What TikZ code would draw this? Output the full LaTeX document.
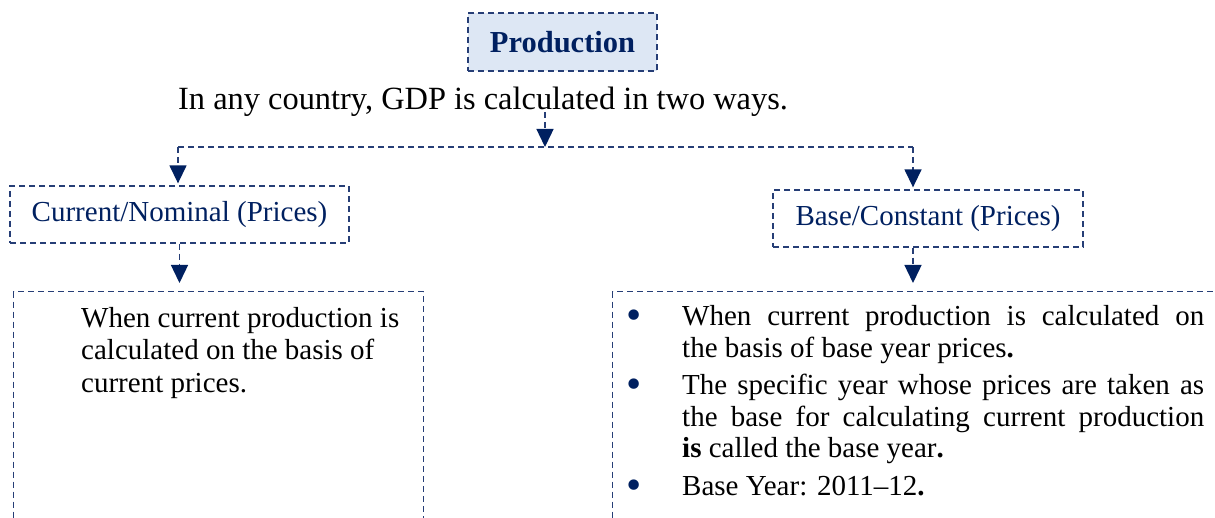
\documentclass[tikz,border=0pt]{standalone}
\usepackage{fontspec}
\setmainfont{Liberation Serif}
\usepackage{enumitem}
\usepackage{tikz}
\usetikzlibrary{arrows.meta, positioning, calc}
\definecolor{mynavy}{RGB}{0,32,96}
\definecolor{mydash}{RGB}{38,62,118}
\definecolor{myfill}{RGB}{221,231,244}
\tikzset{
  dashbox/.style={rectangle, draw=mydash, dash pattern=on 6pt off 4pt,
    line width=1.3pt, inner sep=0pt},
  headbox/.style={dashbox, fill=myfill, minimum width=189pt, minimum height=58pt,
    font=\fontsize{30.5}{36}\selectfont\bfseries, text=mynavy},
  typebox/.style={dashbox, minimum height=57pt,
    font=\fontsize{29}{34}\selectfont, text=mynavy},
  descbox/.style={dashbox, anchor=north west},
  desctext/.style={anchor=north west, inner sep=0pt},
  link/.style={draw=mydash, dash pattern=on 6pt off 4pt, line width=1.4pt},
  arrow/.style={link, -{Triangle[length=18pt, width=17pt, color=mynavy]}}
}

\begin{document}
\begin{tikzpicture}[x=1pt, y=-1pt]
  \useasboundingbox (0,0) rectangle (1215,518);
  \clip (0,0) rectangle (1215,518);

  \node[headbox] (prod) at (562.5,42) {Production};
  \node[anchor=base west, inner sep=0pt, font=\fontsize{32.4}{38}\selectfont]
    (intro) at (178,110) {In any country, GDP is calculated in two ways.};

  \node[typebox, minimum width=339pt] (cur) at (179.5,214.5) {Current/Nominal (Prices)};
  \node[typebox, minimum width=310pt] (base) at (928,218.5) {Base/Constant (Prices)};

  \node[descbox, minimum width=410pt, minimum height=260pt] (curbox) at (13,291) {};
  \node[descbox, minimum width=620pt, minimum height=260pt] (basebox) at (612,291) {};

  \node[desctext, align=left, font=\fontsize{29}{32.5}\selectfont] (curtxt) at (81,307)
    {When current production is\\calculated on the basis of\\current prices.};
  \node[desctext, text width=584pt, align=justify, font=\fontsize{29}{31.5}\selectfont]
    (basetxt) at (620,294) {%
    \begin{itemize}[label={\textcolor{mynavy}{\raisebox{-4pt}{\scalebox{1.5}{\textbullet}}}},
      leftmargin=62pt, labelsep=40pt, itemsep=6pt, topsep=0pt, parsep=0pt,
      partopsep=0pt]
      \item When current production is calculated on\linebreak
        the basis of base year prices\textbf{.}
      \item The specific year whose prices are taken as\linebreak
        the base for calculating current production\linebreak
        \textbf{is} called the base year\textbf{.}
      \item Base Year: 2011--12\textbf{.}
    \end{itemize}};

  \coordinate (drop) at (545,112);
  \coordinate (split) at (545,147);
  \coordinate (lft) at (178,147);
  \coordinate (rgt) at (913,147);

  \draw[arrow] (drop) -- (split);
  \draw[link] (lft) -- (rgt);
  \draw[arrow, shorten >=2pt] (lft) -- (lft |- cur.north);
  \draw[arrow, shorten >=2pt] (rgt) -- (rgt |- base.north);
  \draw[arrow, shorten >=8pt] (cur.south) -- (cur.south |- curbox.north);
  \draw[arrow, shorten >=8pt] (rgt |- base.south) -- (rgt |- basebox.north);
\end{tikzpicture}
\end{document}
